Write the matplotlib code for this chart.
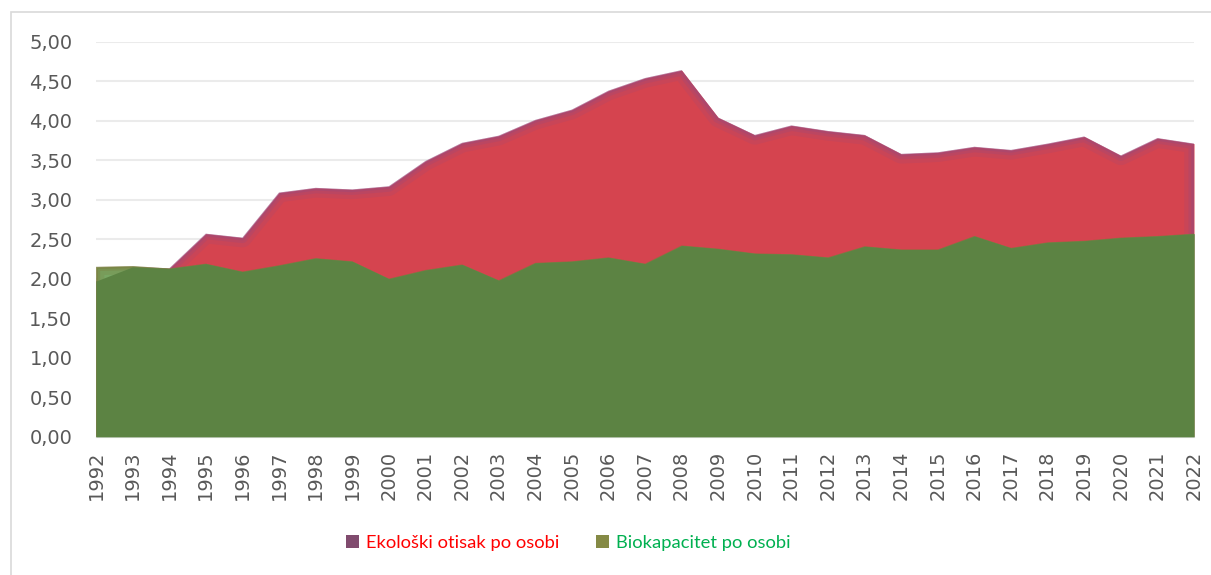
import matplotlib.pyplot as plt
import numpy as np
from matplotlib.patches import Patch, Rectangle
from matplotlib.ticker import FuncFormatter, MultipleLocator

years = list(range(1992, 2023))
footprint = [1.97, 2.15, 2.13, 2.57, 2.52, 3.09, 3.15, 3.13, 3.17, 3.49, 3.72,
             3.81, 4.01, 4.14, 4.38, 4.54, 4.64, 4.04, 3.82, 3.94, 3.87, 3.82,
             3.58, 3.60, 3.67, 3.63, 3.71, 3.80, 3.56, 3.78, 3.71]
biocapacity = [2.15, 2.16, 2.13, 2.19, 2.09, 2.17, 2.26, 2.22, 2.00, 2.11, 2.18,
               1.98, 2.20, 2.22, 2.27, 2.19, 2.42, 2.38, 2.32, 2.31, 2.27, 2.41,
               2.37, 2.37, 2.54, 2.39, 2.46, 2.48, 2.52, 2.54, 2.57]
labels = ["Ekološki otisak po osobi", "Biokapacitet po osobi"]

tick_font = "DejaVu Sans"
legend_font = "Lato"
grey = "#595959"

fig = plt.figure(figsize=(12.11, 5.75), dpi=100)
ax = fig.add_axes([96 / 1211, 1 - 436.7 / 575, (1194 - 96) / 1211, (436.7 - 41.7) / 575])

x = np.array(years)
foot = np.array(footprint)
bio = np.array(biocapacity)


def soft_edge(poly, color, widths, alphas):
    # inward glow along the polygon outline, clipped to the area itself
    verts = poly.get_paths()[0].vertices
    for lw, a in zip(widths, alphas):
        ln, = ax.plot(verts[:, 0], verts[:, 1], color=color, lw=lw, alpha=a,
                      solid_joinstyle="round", zorder=poly.get_zorder() + 0.1)
        ln.set_clip_path(poly.get_paths()[0], poly.get_transform())


red = ax.fill_between(x, 0, foot, color="#D5444F", lw=0, zorder=2)
soft_edge(red, "#9A4A7C", [14, 8, 4], [0.2, 0.28, 0.4])

light = ax.fill_between(x, 0, bio, color="#78A663", lw=0, zorder=3)
dark = ax.fill_between(x, 0, np.minimum(foot, bio), color="#5C8343", lw=0, zorder=3.5)
soft_edge(light, "#7C7A3C", [12, 6, 3], [0.22, 0.32, 0.45])

ax.set_xlim(1992, 2022)
ax.set_ylim(0, 5)
ax.yaxis.set_major_locator(MultipleLocator(0.5))
ax.yaxis.set_major_formatter(FuncFormatter(lambda v, p: f"{v:.2f}".replace(".", ",")))
ax.set_xticks(years)
ax.set_xticklabels([str(y) for y in years], rotation=90)
ax.grid(axis="y", color="#EBEBEB", lw=1.5, zorder=0)
ax.set_axisbelow(True)
for s in ["top", "right", "left"]:
    ax.spines[s].set_visible(False)
ax.spines["bottom"].set_color("#D9D9D9")
ax.tick_params(length=0, colors=grey, labelsize=14)
ax.tick_params(axis="y", pad=17)
ax.tick_params(axis="x", pad=10)
for t in ax.get_xticklabels() + ax.get_yticklabels():
    t.set_fontfamily(tick_font)

handles = [Patch(facecolor="#804B6E", edgecolor="none"),
           Patch(facecolor="#858A45", edgecolor="none")]
leg = fig.legend(handles, labels, loc="center", bbox_to_anchor=(568 / 1211, 1 - 543 / 575),
                 ncol=2, frameon=False, handlelength=0.75, handleheight=0.75,
                 handletextpad=0.35, columnspacing=2.0,
                 prop={"family": legend_font, "size": 13.2})
for t, c in zip(leg.get_texts(), ["#FF0000", "#00B050"]):
    t.set_color(c)

fig.patches.append(Rectangle((11 / 1211, -0.1), 1.2, 1 - 12 / 575 + 0.1,
                             transform=fig.transFigure, fill=False,
                             edgecolor="#D9D9D9", lw=1.2))

fig.savefig("out.png", dpi=100)
